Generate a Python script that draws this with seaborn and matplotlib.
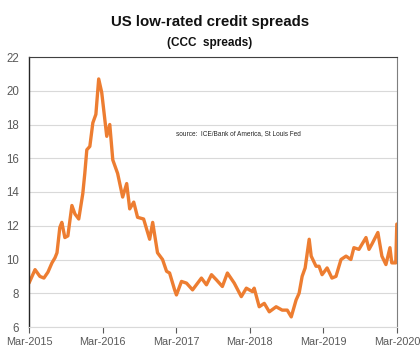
import numpy as np
import pandas as pd
import matplotlib
matplotlib.use("Agg")
import matplotlib.pyplot as plt
import matplotlib.dates as mdates
import seaborn as sns

# CCC spreads (%)
dates = [
    "2015-03-01", "2015-03-16", "2015-03-31", "2015-04-24", "2015-05-14", "2015-06-03",
    "2015-06-23", "2015-07-08", "2015-07-18", "2015-08-01", "2015-08-11", "2015-08-26",
    "2015-09-10", "2015-09-30", "2015-10-15", "2015-11-03", "2015-11-23", "2015-12-03",
    "2015-12-13", "2015-12-28", "2016-01-12", "2016-01-27", "2016-02-10", "2016-02-25",
    "2016-03-21", "2016-04-05", "2016-04-20", "2016-05-14", "2016-06-08", "2016-06-28",
    "2016-07-13", "2016-08-02", "2016-08-21", "2016-09-20", "2016-10-20", "2016-11-04",
    "2016-11-28", "2016-12-23", "2017-01-12", "2017-01-27", "2017-02-21", "2017-03-02",
    "2017-03-27", "2017-04-21", "2017-05-21", "2017-07-04", "2017-07-29", "2017-08-23",
    "2017-09-16", "2017-10-16", "2017-11-10", "2017-12-14", "2018-01-18", "2018-02-12",
    "2018-03-14", "2018-03-23", "2018-04-17", "2018-05-12", "2018-06-06", "2018-07-10",
    "2018-08-09", "2018-09-03", "2018-09-23", "2018-10-17", "2018-11-01", "2018-11-16",
    "2018-12-01", "2018-12-21", "2018-12-31", "2019-01-24", "2019-02-08", "2019-02-23",
    "2019-03-20", "2019-04-13", "2019-05-03", "2019-05-28", "2019-06-22", "2019-07-16",
    "2019-07-31", "2019-08-25", "2019-09-29", "2019-10-14", "2019-10-28", "2019-11-27",
    "2019-12-17", "2020-01-06", "2020-01-26", "2020-02-04", "2020-02-24", "2020-02-29",
]
spreads = [
    8.6, 9.0, 9.4, 9.0, 8.9, 9.25,
    9.8, 10.1, 10.4, 11.9, 12.2, 11.3,
    11.4, 13.2, 12.7, 12.4, 13.9, 15.1,
    16.5, 16.7, 18.1, 18.6, 20.7, 19.9,
    17.3, 18.0, 15.9, 15.1, 13.7, 14.5,
    13.0, 13.4, 12.5, 12.4, 11.2, 12.2,
    10.4, 10.0, 9.3, 9.2, 8.2, 7.9,
    8.7, 8.6, 8.2, 8.9, 8.5, 9.1,
    8.8, 8.4, 9.2, 8.6, 7.8, 8.3,
    8.1, 8.3, 7.2, 7.4, 6.9, 7.2,
    7.0, 7.0, 6.6, 7.6, 8.0, 9.0,
    9.5, 11.2, 10.2, 9.6, 9.6, 9.1,
    9.5, 8.9, 9.0, 10.0, 10.2, 10.0,
    10.7, 10.6, 11.3, 10.6, 10.9, 11.6,
    10.2, 9.7, 10.7, 9.8, 9.8, 12.1,
]
tick_dates = ["2015-03-01", "2016-03-01", "2017-03-01", "2018-03-01", "2019-03-01", "2020-03-01"]
y_ticks = [6, 8, 10, 12, 14, 16, 18, 20, 22]

df = pd.DataFrame({"Date": pd.to_datetime(dates), "Spread": spreads})

sns.set_style("white")
plt.rcParams['font.family'] = ['Liberation Sans', 'DejaVu Sans']

fig = plt.figure(figsize=(4.2, 3.58), dpi=100)
ax = fig.add_axes([29 / 420, 31 / 358, 368 / 420, 270 / 358])

sns.lineplot(data=df, x="Date", y="Spread", color="#ED7D31", linewidth=2.4, ax=ax)

ax.set_xlim(pd.Timestamp("2015-03-01"), pd.Timestamp("2020-03-01"))
ax.set_ylim(6, 22)
ax.set_yticks(y_ticks)
ax.set_xticks(pd.to_datetime(tick_dates))
ax.xaxis.set_major_formatter(mdates.DateFormatter("%b-%Y"))
ax.yaxis.grid(True, color="#d9d9d9", linewidth=0.8)
ax.set_axisbelow(True)
ax.set_xlabel("")
ax.set_ylabel("")

ax.tick_params(axis="x", colors="#595959", labelsize=7.8, length=4, width=0.8, direction="out", bottom=True, pad=3)
ax.tick_params(axis="y", colors="#595959", labelsize=8.3, length=0, pad=7)
for lab in ax.get_xticklabels() + ax.get_yticklabels():
    lab.set_color("#595959")

ax.spines["left"].set_color("#262626")
ax.spines["left"].set_linewidth(1.0)
ax.spines["bottom"].set_color("#d9d9d9")
ax.spines["top"].set_color("#404040")
ax.spines["right"].set_color("#7f7f7f")
for s in ax.spines.values():
    s.set_visible(True)

ax.text(0.40, 0.718, "source:  ICE/Bank of America, St Louis Fed", transform=ax.transAxes,
        fontsize=4.7, color="#262626", va="center", ha="left")

fig.text(0.5, 1 - 22 / 358, "US low-rated credit spreads", ha="center", va="center",
         fontsize=10.8, fontweight="bold", color="#111111")
fig.text(0.5, 1 - 43 / 358, "(CCC  spreads)", ha="center", va="center",
         fontsize=8.5, fontweight="bold", color="#111111")

fig.savefig("out.png", dpi=100)
